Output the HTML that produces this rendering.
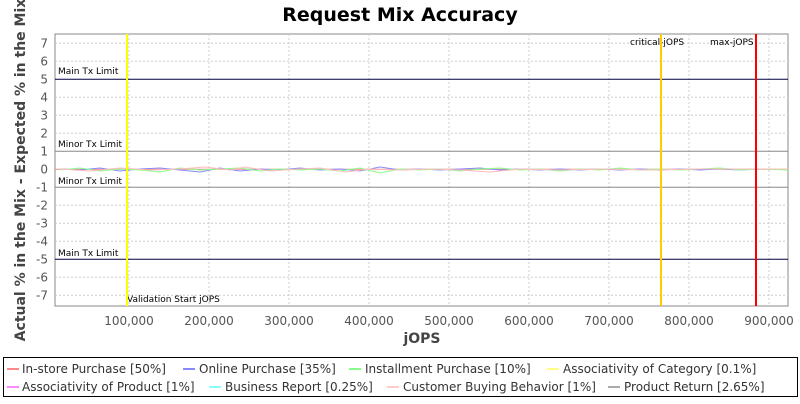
<!DOCTYPE html>
<html><head><meta charset="utf-8"><style>
body{margin:0;width:800px;height:400px;background:#fff;font-family:"DejaVu Sans","Liberation Sans",sans-serif;overflow:hidden}
</style></head><body>
<svg width="800" height="400" xmlns="http://www.w3.org/2000/svg" font-family="DejaVu Sans, Liberation Sans, sans-serif">
<text x="400" y="21" text-anchor="middle" font-size="19" font-weight="bold">Request Mix Accuracy</text>
<rect x="55" y="34" width="733" height="272" fill="#fff" stroke="#888"/>
<g stroke="#ccc" stroke-dasharray="2,2" stroke-width="1">
<line x1="55" x2="788" y1="43.3" y2="43.3"/><line x1="55" x2="788" y1="61.3" y2="61.3"/><line x1="55" x2="788" y1="97.3" y2="97.3"/><line x1="55" x2="788" y1="115.3" y2="115.3"/><line x1="55" x2="788" y1="133.3" y2="133.3"/><line x1="55" x2="788" y1="205.3" y2="205.3"/><line x1="55" x2="788" y1="223.3" y2="223.3"/><line x1="55" x2="788" y1="241.3" y2="241.3"/><line x1="55" x2="788" y1="277.3" y2="277.3"/><line x1="55" x2="788" y1="295.3" y2="295.3"/>
<line x1="129" x2="129" y1="34" y2="306"/><line x1="209" x2="209" y1="34" y2="306"/><line x1="289" x2="289" y1="34" y2="306"/><line x1="369" x2="369" y1="34" y2="306"/><line x1="449" x2="449" y1="34" y2="306"/><line x1="529" x2="529" y1="34" y2="306"/><line x1="609" x2="609" y1="34" y2="306"/><line x1="689" x2="689" y1="34" y2="306"/><line x1="769" x2="769" y1="34" y2="306"/>
</g>
<g stroke-width="1">
<line x1="55" x2="788" y1="79.3" y2="79.3" stroke="#000040"/>
<line x1="55" x2="788" y1="259.3" y2="259.3" stroke="#000040"/>
<line x1="55" x2="788" y1="151.3" y2="151.3" stroke="#888"/>
<line x1="55" x2="788" y1="187.3" y2="187.3" stroke="#888"/>
</g>
<g font-size="9" fill="#000">
<text x="58" y="74">Main Tx Limit</text><text x="58" y="147">Minor Tx Limit</text><text x="58" y="184">Minor Tx Limit</text><text x="58" y="256">Main Tx Limit</text>
<text x="127" y="302">Validation Start jOPS</text><text x="630" y="45">critical-jOPS</text><text x="710" y="45">max-jOPS</text>
</g>
<line x1="55" x2="788" y1="169.3" y2="169.3" stroke="#e88" stroke-width="1"/>
<polyline fill="none" stroke="#88f" points="60,169 80,170 100,168 120,171 140,169 160,168 180,170 200,172 220,168 240,171 260,169 280,170 300,168 320,170 340,169 360,171 380,167 400,170 420,169 440,170 460,169 480,168 500,170 520,169 540,170 560,169 580,170 600,169 620,170 640,169 660,170 680,169 700,170 720,169 740,170 760,169 788,169"/>
<polyline fill="none" stroke="#8f8" points="60,170 80,168 100,171 120,169 140,170 160,172 180,168 200,170 220,169 240,168 260,171 280,169 300,170 320,169 340,171 360,168 380,173 400,169 420,170 440,169 460,171 480,169 500,168 520,170 540,169 560,171 580,169 600,170 620,168 640,170 660,169 680,170 700,169 720,168 740,170 760,169 788,170"/>
<polyline fill="none" stroke="#fbb" points="60,169 90,171 120,168 150,170 180,169 205,167 230,170 245,167 270,171 300,169 320,168 345,172 370,169 400,170 430,169 460,170 490,172 520,169 560,170 600,169 650,170 700,169 788,169"/>
<g stroke-width="2">
<line x1="127" x2="127" y1="34" y2="306" stroke="#ff0"/>
<line x1="661" x2="661" y1="34" y2="306" stroke="#fc0"/>
<line x1="756" x2="756" y1="34" y2="306" stroke="#f00"/>
</g>
<g font-size="12" fill="#555" text-anchor="end">
<text x="48" y="47.5">7</text><text x="48" y="65.5">6</text><text x="48" y="83.5">5</text><text x="48" y="101.5">4</text><text x="48" y="119.5">3</text><text x="48" y="137.5">2</text><text x="48" y="155.5">1</text><text x="48" y="173.5">0</text><text x="48" y="191.5">-1</text><text x="48" y="209.5">-2</text><text x="48" y="227.5">-3</text><text x="48" y="245.5">-4</text><text x="48" y="263.5">-5</text><text x="48" y="281.5">-6</text><text x="48" y="299.5">-7</text>
</g>
<g font-size="12" fill="#555" text-anchor="middle">
<text x="129" y="325">100,000</text><text x="209" y="325">200,000</text><text x="289" y="325">300,000</text><text x="369" y="325">400,000</text><text x="449" y="325">500,000</text><text x="529" y="325">600,000</text><text x="609" y="325">700,000</text><text x="689" y="325">800,000</text><text x="769" y="325">900,000</text>
</g>
<text x="422" y="343" text-anchor="middle" font-size="14" font-weight="bold" fill="#444">jOPS</text>
<text transform="translate(25,170) rotate(-90)" text-anchor="middle" font-size="14" font-weight="bold" fill="#444">Actual % in the Mix - Expected % in the Mix</text>
<rect x="3.5" y="357.5" width="794" height="39" fill="#fff" stroke="#000"/>
<g font-size="12" fill="#333">
<line x1="7" x2="19" y1="369" y2="369" stroke="#f88" stroke-width="2"/><text x="22" y="373">In-store Purchase [50%]</text>
<line x1="183" x2="195" y1="369" y2="369" stroke="#88f" stroke-width="2"/><text x="199" y="373">Online Purchase [35%]</text>
<line x1="349" x2="361" y1="369" y2="369" stroke="#8f8" stroke-width="2"/><text x="365" y="373">Installment Purchase [10%]</text>
<line x1="547" x2="559" y1="369" y2="369" stroke="#ff8" stroke-width="2"/><text x="563" y="373">Associativity of Category [0.1%]</text>
<line x1="7" x2="19" y1="387" y2="387" stroke="#f8f" stroke-width="2"/><text x="22" y="391">Associativity of Product [1%]</text>
<line x1="209" x2="221" y1="387" y2="387" stroke="#8ff" stroke-width="2"/><text x="225" y="391">Business Report [0.25%]</text>
<line x1="387" x2="399" y1="387" y2="387" stroke="#fcc" stroke-width="2"/><text x="403" y="391">Customer Buying Behavior [1%]</text>
<line x1="608" x2="620" y1="387" y2="387" stroke="#aaa" stroke-width="2"/><text x="624" y="391">Product Return [2.65%]</text>
</g>
</svg>
</body></html>
